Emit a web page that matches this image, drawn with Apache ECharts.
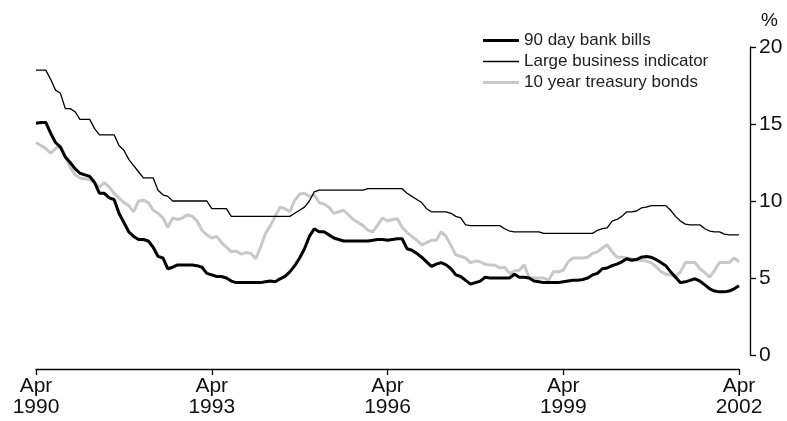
<!DOCTYPE html>
<html>
<head>
<meta charset="utf-8">
<script src="https://cdn.jsdelivr.net/npm/echarts@6/dist/echarts.min.js"></script>
<style>html,body{margin:0;padding:0;background:#fff}#c{width:787px;height:421px}</style>
</head>
<body>
<div id="c"></div>
<script>
// Monthly, Apr 1990 – Apr 2002
const startYear = 1990, startMonth = 3, nMonths = 145;
const monthNames = ['Jan','Feb','Mar','Apr','May','Jun','Jul','Aug','Sep','Oct','Nov','Dec'];
const categories = [];
for (let k = 0; k < nMonths; k++) {
  const m = (startMonth + k) % 12, y = startYear + Math.floor((startMonth + k) / 12);
  categories.push(monthNames[m] + ' ' + y);
}
const xTickLabels = ['Apr\n1990','Apr\n1993','Apr\n1996','Apr\n1999','Apr\n2002'];
const yTicks = [0,5,10,15,20];
const seriesNames = ['90 day bank bills','Large business indicator','10 year treasury bonds'];

const bankBills = [15.05,15.1,15.1,14.4,13.8,13.5,12.85,12.5,12.1,11.8,11.7,11.6,11.2,10.5,10.5,10.2,10.1,9.2,8.6,8.0,7.7,7.5,7.5,7.4,7.0,6.4,6.3,5.6,5.7,5.85,5.85,5.85,5.85,5.8,5.7,5.3,5.2,5.1,5.1,5.0,4.8,4.7,4.7,4.7,4.7,4.7,4.7,4.75,4.8,4.75,4.95,5.1,5.4,5.8,6.3,6.9,7.7,8.2,8.0,8.0,7.8,7.6,7.5,7.4,7.4,7.4,7.4,7.4,7.4,7.45,7.5,7.5,7.45,7.5,7.55,7.55,6.9,6.8,6.6,6.35,6.05,5.75,5.9,6.0,5.85,5.6,5.2,5.1,4.85,4.6,4.7,4.8,5.05,5.0,5.0,5.0,5.0,5.0,5.25,5.05,5.05,5.0,4.8,4.75,4.7,4.7,4.7,4.7,4.75,4.8,4.85,4.85,4.9,5.0,5.2,5.3,5.6,5.65,5.8,5.9,6.05,6.25,6.15,6.2,6.35,6.4,6.35,6.2,6.0,5.8,5.4,5.05,4.7,4.75,4.85,4.95,4.8,4.55,4.3,4.15,4.1,4.1,4.15,4.3,4.5];
const largeBusiness = [18.5,18.5,18.5,17.9,17.2,17.0,16.0,16.0,15.8,15.3,15.3,15.3,14.7,14.3,14.3,14.3,14.3,13.6,13.3,12.7,12.3,11.9,11.5,11.5,11.5,10.7,10.4,10.3,10.0,10.0,10.0,10.0,10.0,10.0,10.0,10.0,9.5,9.5,9.5,9.5,9.0,9.0,9.0,9.0,9.0,9.0,9.0,9.0,9.0,9.0,9.0,9.0,9.0,9.2,9.4,9.6,10.0,10.6,10.7,10.7,10.7,10.7,10.7,10.7,10.7,10.7,10.7,10.7,10.8,10.8,10.8,10.8,10.8,10.8,10.8,10.8,10.5,10.3,10.1,9.9,9.5,9.3,9.3,9.3,9.3,9.2,9.0,8.9,8.45,8.4,8.4,8.4,8.4,8.4,8.4,8.4,8.2,8.05,8.0,8.0,8.0,8.0,8.0,8.0,7.9,7.9,7.9,7.9,7.9,7.9,7.9,7.9,7.9,7.9,7.9,8.1,8.2,8.25,8.7,8.8,9.0,9.3,9.3,9.35,9.55,9.6,9.7,9.7,9.7,9.7,9.4,9.0,8.7,8.5,8.45,8.45,8.45,8.2,8.05,8.0,8.0,7.85,7.8,7.8,7.8];
const treasuryBonds = [13.8,13.6,13.4,13.1,13.4,13.6,12.9,12.2,11.7,11.5,11.45,11.4,11.2,10.9,11.2,10.9,10.5,10.2,9.9,9.7,9.3,10.0,10.05,9.9,9.4,9.2,8.9,8.3,8.9,8.8,8.9,9.1,9.0,8.7,8.1,7.8,7.6,7.7,7.3,7.0,6.7,6.75,6.55,6.65,6.6,6.25,7.0,7.9,8.4,9.0,9.6,9.5,9.3,10.05,10.45,10.5,10.3,10.4,9.9,9.8,9.6,9.2,9.3,9.4,9.1,8.8,8.6,8.4,8.1,8.0,8.45,8.9,8.7,8.8,8.85,8.3,7.95,7.7,7.45,7.15,7.3,7.45,7.45,8.0,7.7,7.1,6.5,6.4,6.3,6.0,6.1,6.05,5.9,5.85,5.85,5.65,5.7,5.3,5.45,5.5,5.85,5.05,5.0,5.0,5.0,4.85,5.4,5.4,5.5,6.05,6.3,6.3,6.3,6.35,6.6,6.7,6.95,7.15,6.7,6.35,6.35,6.3,6.25,6.15,6.15,6.1,6.0,5.75,5.4,5.25,5.2,5.1,5.4,6.0,6.0,6.0,5.6,5.35,5.05,5.5,6.0,6.0,6.0,6.3,6.05];

const FONT = '"Liberation Sans", Arial, sans-serif';
const chart = echarts.init(document.getElementById('c'), null, {renderer: 'canvas'});
chart.setOption({
  animation: false,
  backgroundColor: '#fff',
  grid: {left: 36, right: 48, top: 47, bottom: 66, containLabel: false},
  legend: {
    orient: 'vertical', left: 478, top: 27, itemWidth: 36, itemHeight: 14, itemGap: 4,
    symbolKeepAspect: true,
    textStyle: {fontFamily: FONT, fontSize: 17, color: '#222'},
    data: [
      {name: seriesNames[0], icon: 'path://M0,0L36,0L36,3L0,3Z', itemStyle: {color: '#000'}},
      {name: seriesNames[1], icon: 'path://M0,0L36,0L36,1.4L0,1.4Z', itemStyle: {color: '#000'}},
      {name: seriesNames[2], icon: 'path://M0,0L36,0L36,3L0,3Z', itemStyle: {color: '#c8c8c8'}}
    ]
  },
  xAxis: {
    type: 'category', data: categories, boundaryGap: false, offset: 14,
    axisLine: {onZero: false, lineStyle: {color: '#000', width: 1.3}},
    axisTick: {alignWithLabel: true, length: 6, interval: (i) => i % 36 === 0, lineStyle: {color: '#000', width: 1.3}},
    axisLabel: {
      interval: (i) => i % 36 === 0, margin: 7, color: '#111', fontFamily: FONT, fontSize: 21, lineHeight: 21,
      formatter: (v, i) => xTickLabels[i / 36]
    },
    splitLine: {show: false}
  },
  yAxis: {
    type: 'value', position: 'right', min: yTicks[0], max: yTicks[yTicks.length-1], interval: 5, offset: 11,
    name: '%', nameLocation: 'end', nameGap: 17,
    nameTextStyle: {fontFamily: FONT, fontSize: 19, color: '#111', align: 'left', padding: [0,0,0,11]},
    axisLine: {show: true, lineStyle: {color: '#000', width: 1.3}},
    axisTick: {show: true, length: 6, lineStyle: {color: '#000', width: 1.3}},
    axisLabel: {margin: 9, color: '#111', fontFamily: FONT, fontSize: 21},
    splitLine: {show: false}
  },
  series: [
    {name: seriesNames[0], type: 'line', data: bankBills, symbol: 'none', z: 3,
     lineStyle: {color: '#000', width: 3}, itemStyle: {color: '#000'}},
    {name: seriesNames[1], type: 'line', data: largeBusiness, symbol: 'none', z: 2,
     lineStyle: {color: '#000', width: 1.3}, itemStyle: {color: '#000'}},
    {name: seriesNames[2], type: 'line', data: treasuryBonds, symbol: 'none', z: 1,
     lineStyle: {color: '#c8c8c8', width: 3}, itemStyle: {color: '#c8c8c8'}}
  ]
});
</script>
</body>
</html>
